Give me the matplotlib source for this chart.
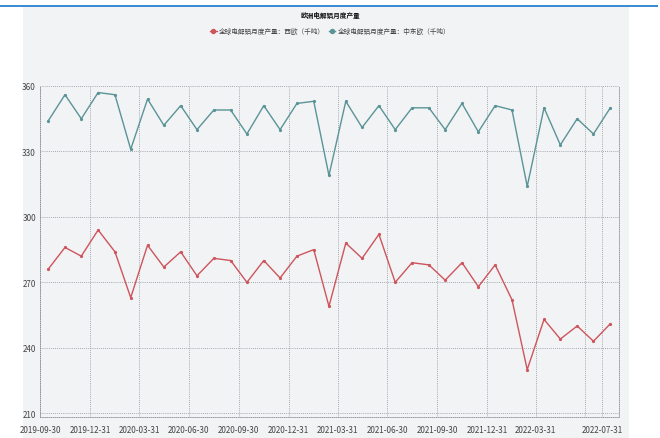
import pandas as pd
import matplotlib
matplotlib.use("Agg")
import matplotlib.pyplot as plt
from matplotlib.patches import Rectangle

plt.rcParams["font.family"] = ["Liberation Sans Narrow", "Noto Sans CJK SC", "DejaVu Sans"]

title = "欧洲电解铝月度产量"
west_label = "全球电解铝月度产量：西欧（千吨）"
east_label = "全球电解铝月度产量：中东欧（千吨）"

# monthly points, Oct 2019 .. Aug 2022 (plotted mid-month)
months = pd.period_range("2019-10", "2022-08", freq="M")

west_europe = [
    276, 286, 282, 294, 284, 263, 287, 277, 284, 273, 281, 280,
    270, 280, 272, 282, 285, 259, 288, 281, 292, 270, 279, 278,
    271, 279, 268, 278, 262, 230, 253, 244, 250, 243, 251,
]
central_east_europe = [
    344, 356, 345, 357, 356, 331, 354, 342, 351, 340, 349, 349,
    338, 351, 340, 352, 353, 319, 353, 341, 351, 340, 350, 350,
    340, 352, 339, 351, 349, 314, 350, 333, 345, 338, 350,
]

tick_dates = [
    "2019-09-30", "2019-12-31", "2020-03-31", "2020-06-30", "2020-09-30",
    "2020-12-31", "2021-03-31", "2021-06-30", "2021-09-30", "2021-12-31",
    "2022-03-31", "2022-06-30", "2022-07-31",
]
tick_labels = [
    "2019-09-30", "2019-12-31", "2020-03-31", "2020-06-30", "2020-09-30",
    "2020-12-31", "2021-03-31", "2021-06-30", "2021-09-30", "2021-12-31",
    "2022-03-31", "", "2022-07-31",
]
y_ticks = [210, 240, 270, 300, 330, 360]


def main():
    W, H = 660, 439
    fig = plt.figure(figsize=(W / 100, H / 100), dpi=100)
    fig.patch.set_facecolor("white")

    panel_color = "#f2f3f5"
    fig.patches.append(
        Rectangle((23 / W, 0), 606 / W, 431 / H,
                  transform=fig.transFigure, facecolor=panel_color,
                  edgecolor="none", zorder=-5)
    )
    fig.patches.append(
        Rectangle((0, 1 - 8 / H), 658 / W, 2.5 / H,
                  transform=fig.transFigure, facecolor="#3d8bd4",
                  edgecolor="none", zorder=-5)
    )

    ax = fig.add_axes([40 / W, 1 - 417.5 / H, 579 / W, (417.5 - 87) / H])
    ax.set_facecolor(panel_color)

    x = [p.to_timestamp() + pd.Timedelta(days=14) for p in months]

    red = "#cd555d"
    teal = "#5a9497"
    ax.plot(x, west_europe, color=red, lw=1.0, marker="o", ms=1.3,
            label=west_label, zorder=3)
    ax.plot(x, central_east_europe, color=teal, lw=1.0, marker="o", ms=1.3,
            label=east_label, zorder=3)

    ax.set_ylim(208.5, 360)
    ax.set_yticks(y_ticks)
    ax.set_xlim(pd.Timestamp("2019-09-30"), pd.Timestamp("2022-08-31"))
    ax.set_xticks([pd.Timestamp(d) for d in tick_dates])
    ax.set_xticklabels(tick_labels)

    grid_kw = dict(color="#8a8f99", lw=0.6, ls=(0, (1, 1.5)))
    ax.grid(True, **grid_kw)
    ax.set_axisbelow(True)
    for side, spine in ax.spines.items():
        if side == "top":
            spine.set_visible(False)
        else:
            spine.set_color("#8a8f99")
            spine.set_linewidth(0.6)
            spine.set_linestyle((0, (1, 1.5)))

    ax.tick_params(length=0, labelsize=5.8, colors="#444444")
    ax.tick_params(axis="y", pad=3)
    ax.tick_params(axis="x", pad=6)

    fig.text(330 / W, 1 - 15 / H, title, ha="center", va="center",
             fontsize=4.8, fontweight="bold", color="#111111",
             family=["Noto Sans CJK SC", "DejaVu Sans"])

    leg = fig.legend(loc="center", bbox_to_anchor=(330 / W, 1 - 32 / H),
                     ncol=2, frameon=False,
                     prop={"family": ["Noto Sans CJK SC", "DejaVu Sans"], "size": 4.8},
                     handlelength=1.0, columnspacing=0.6, handletextpad=0.3,
                     markerscale=2.2)
    for t in leg.get_texts():
        t.set_color("#444444")

    fig.savefig("out.png", dpi=100)
    plt.close(fig)


if __name__ == "__main__":
    main()
